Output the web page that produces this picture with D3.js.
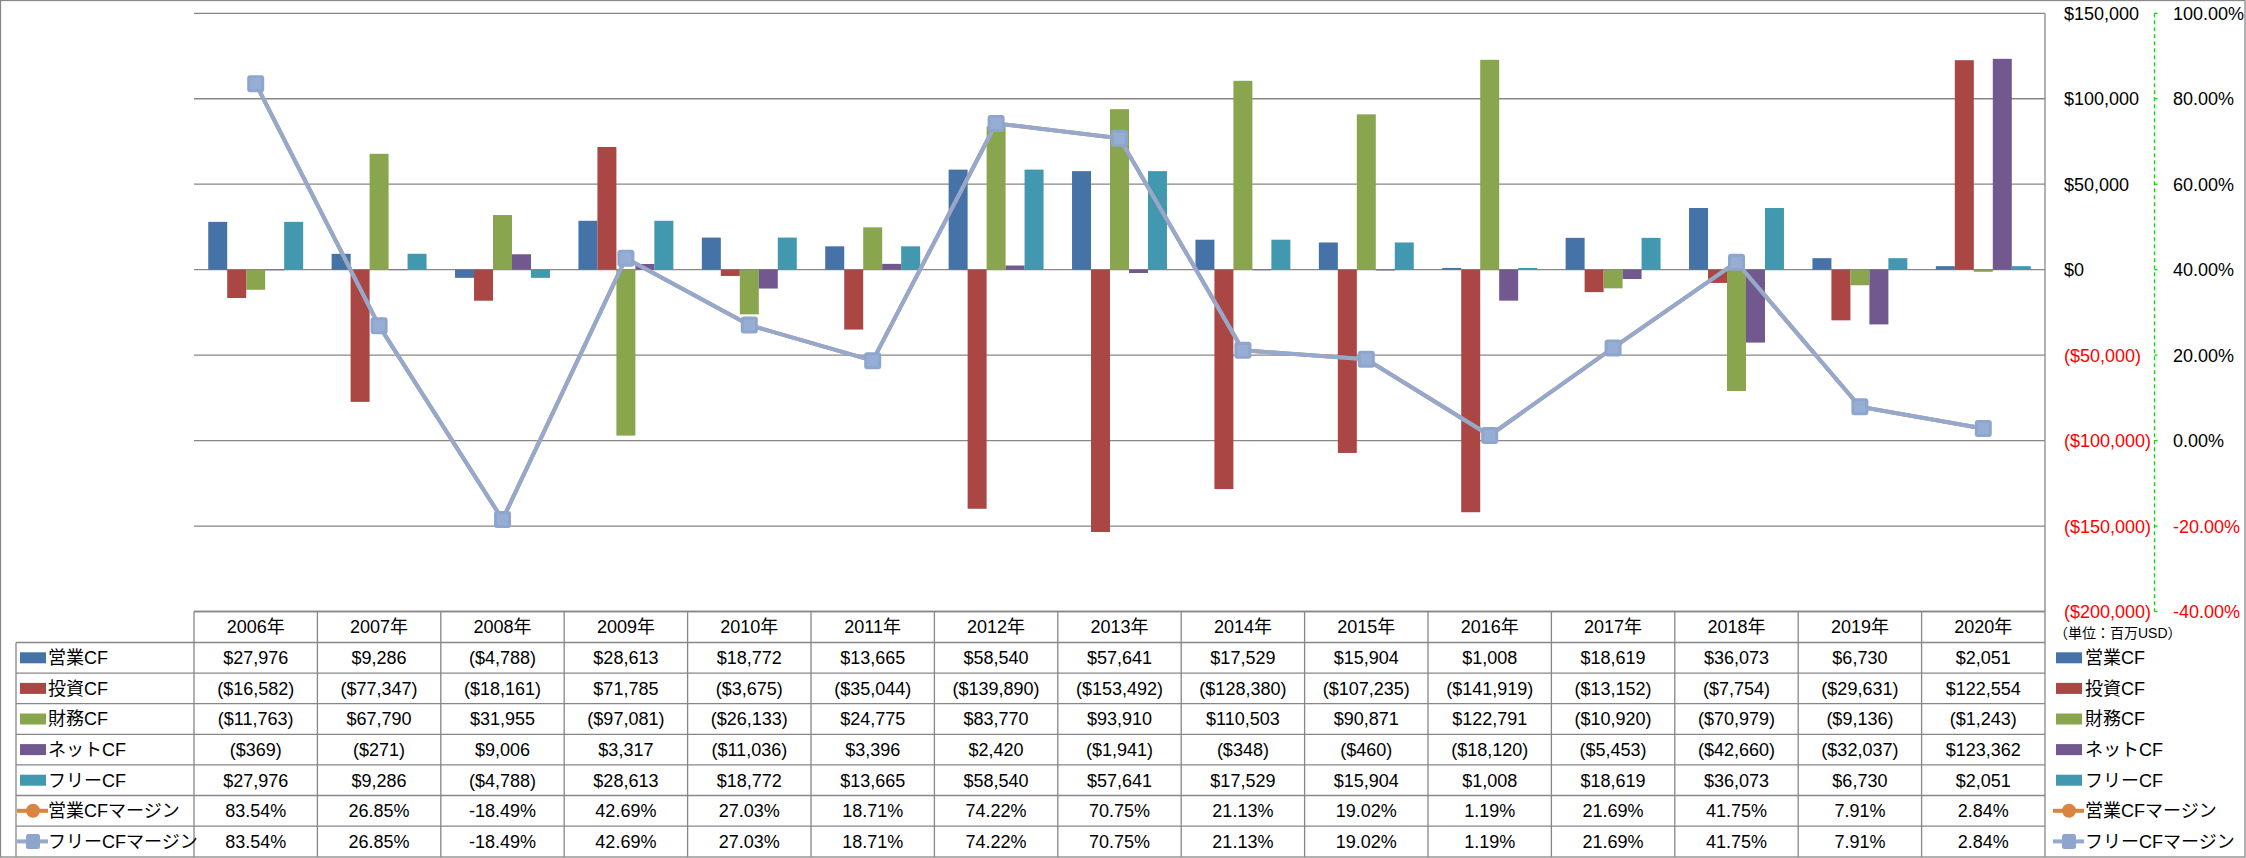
<!DOCTYPE html>
<html><head><meta charset="utf-8">
<script src="https://cdn.jsdelivr.net/npm/d3@7"></script>
<style>
html,body{margin:0;padding:0;background:#fff;}
svg{display:block;}
text{font-family:"Liberation Sans",Arial,"Noto Sans CJK JP",sans-serif;}
</style></head><body>
<svg id="c" width="2246" height="858"></svg>
<script>
const years = ['2006年','2007年','2008年','2009年','2010年','2011年','2012年','2013年','2014年','2015年','2016年','2017年','2018年','2019年','2020年'];
const opCF   = [27976, 9286, -4788, 28613, 18772, 13665, 58540, 57641, 17529, 15904, 1008, 18619, 36073, 6730, 2051];
const invCF  = [-16582, -77347, -18161, 71785, -3675, -35044, -139890, -153492, -128380, -107235, -141919, -13152, -7754, -29631, 122554];
const finCF  = [-11763, 67790, 31955, -97081, -26133, 24775, 83770, 93910, 110503, 90871, 122791, -10920, -70979, -9136, -1243];
const netCF  = [-369, -271, 9006, 3317, -11036, 3396, 2420, -1941, -348, -460, -18120, -5453, -42660, -32037, 123362];
const freeCF = [27976, 9286, -4788, 28613, 18772, 13665, 58540, 57641, 17529, 15904, 1008, 18619, 36073, 6730, 2051];
const opMargin   = [83.54, 26.85, -18.49, 42.69, 27.03, 18.71, 74.22, 70.75, 21.13, 19.02, 1.19, 21.69, 41.75, 7.91, 2.84];
const freeMargin = [83.54, 26.85, -18.49, 42.69, 27.03, 18.71, 74.22, 70.75, 21.13, 19.02, 1.19, 21.69, 41.75, 7.91, 2.84];
const barNames  = ['営業CF','投資CF','財務CF','ネットCF','フリーCF'];
const lineNames = ['営業CFマージン','フリーCFマージン'];
const leftTicks  = [150000, 100000, 50000, 0, -50000, -100000, -150000, -200000];
const rightTicks = [100, 80, 60, 40, 20, 0, -20, -40];
const unitLabel = '（単位：百万USD）';

const barSeries = [opCF, invCF, finCF, netCF, freeCF];
const barColors = ['#4572A7','#AA4643','#89A54E','#71588F','#4198AF'];
const lineSeries = [opMargin, freeMargin];
const lineColors = ['#DB843D','#93A9CF'];

const svg = d3.select('#c');
const L = 194, R = 2045, T = 13.3, B = 611.5;
const gridCol = '#878787';
const fontSize = 18;

const x0 = d3.scaleBand().domain(years).range([L, R]).paddingInner(0).paddingOuter(0);
const x1 = d3.scaleBand().domain(d3.range(barSeries.length)).range([0, x0.bandwidth()]).paddingInner(0).paddingOuter(0.75);
const y = d3.scaleLinear().domain([-200000, 150000]).range([B, T]);
const y2 = d3.scaleLinear().domain([-40, 100]).range([B, T]);

// outer border
svg.append('rect').attr('x',0.5).attr('y',0.5).attr('width',2244.5).attr('height',856.5)
  .attr('fill','none').attr('stroke','#888').attr('stroke-width',1.3);

// gridlines
svg.append('g').selectAll('line').data(leftTicks).join('line')
  .attr('x1',L).attr('x2',R).attr('y1',d=>y(d)).attr('y2',d=>y(d))
  .attr('stroke',gridCol).attr('stroke-width',1.3);

// bars
const fmtN = d3.format(',');
barSeries.forEach((s,si)=>{
  svg.append('g').selectAll('rect').data(s).join('rect')
    .attr('x',(d,i)=>x0(years[i])+x1(si))
    .attr('width',x1.bandwidth())
    .attr('y',d=>Math.min(y(d),y(0)))
    .attr('height',d=>Math.abs(y(d)-y(0)))
    .attr('fill',barColors[si]);
});

// lines
const cx = i => x0(years[i]) + x0.bandwidth()/2;
lineSeries.forEach((s,si)=>{
  const line = d3.line().x((d,i)=>cx(i)).y(d=>y2(d));
  svg.append('path').datum(s).attr('d',line).attr('fill','none')
    .attr('stroke',lineColors[si]).attr('stroke-width',4).attr('stroke-linejoin','round');
  const g = svg.append('g');
  if(si===0){
    g.selectAll('circle').data(s).join('circle')
      .attr('cx',(d,i)=>cx(i)).attr('cy',d=>y2(d)).attr('r',7).attr('fill',lineColors[0]);
  } else {
    g.selectAll('rect.o').data(s).join('rect').attr('class','o')
      .attr('x',(d,i)=>cx(i)-8.5).attr('y',d=>y2(d)-8.5).attr('width',17).attr('height',17)
      .attr('rx',3).attr('fill','#8EA6CE');
    g.selectAll('rect.i').data(s).join('rect').attr('class','i')
      .attr('x',(d,i)=>cx(i)-5.5).attr('y',d=>y2(d)-5.5).attr('width',11).attr('height',11)
      .attr('fill','#97AED4');
  }
});

// right-side axis labels
const money = v => v<0 ? '($'+fmtN(-v)+')' : '$'+fmtN(v);
svg.append('g').selectAll('text').data(leftTicks).join('text')
  .attr('x',2064).attr('y',d=>y(d)).attr('dy','0.36em')
  .attr('font-size',fontSize).attr('fill',d=>d<0?'#FF0000':'#000')
  .text(d=>money(d));
// green dashed secondary axis
const ax2 = 2154.5;
svg.append('line').attr('x1',ax2).attr('x2',ax2).attr('y1',T).attr('y2',B)
  .attr('stroke','#00E000').attr('stroke-width',1.3).attr('stroke-dasharray','4,3');
svg.append('g').selectAll('line').data(rightTicks).join('line')
  .attr('x1',ax2).attr('x2',ax2+3).attr('y1',d=>y2(d)).attr('y2',d=>y2(d))
  .attr('stroke','#00E000').attr('stroke-width',1.3);
svg.append('g').selectAll('text').data(rightTicks).join('text')
  .attr('x',2173).attr('y',d=>y2(d)).attr('dy','0.36em')
  .attr('font-size',fontSize).attr('fill',d=>d<0?'#FF0000':'#000')
  .text(d=>d.toFixed(2)+'%');

// unit label
svg.append('text').attr('x',2054).attr('y',633).attr('dy','0.36em')
  .attr('font-size',14).attr('fill','#000').text(unitLabel);

// data table
const headTop = 611.5, headBot = 642.5, rowH = 30.6, tableLeft = 16;
const rowNames = barNames.concat(lineNames);
const rowData = barSeries.concat(lineSeries);
const nRows = rowNames.length;
const rowY = i => headBot + rowH*i;
const tBot = 857;
const tg = svg.append('g');
tg.append('line').attr('x1',L).attr('x2',R).attr('y1',headTop).attr('y2',headTop).attr('stroke',gridCol).attr('stroke-width',1.3);
d3.range(nRows).forEach(i=>{
  tg.append('line').attr('x1',tableLeft).attr('x2',R).attr('y1',rowY(i)).attr('y2',rowY(i)).attr('stroke',gridCol).attr('stroke-width',1.3);
});
tg.append('line').attr('x1',tableLeft).attr('x2',tableLeft).attr('y1',headBot).attr('y2',tBot).attr('stroke',gridCol).attr('stroke-width',1.3);
years.forEach(yr=>{
  tg.append('line').attr('x1',x0(yr)).attr('x2',x0(yr)).attr('y1',headTop).attr('y2',tBot).attr('stroke',gridCol).attr('stroke-width',1.3);
});
tg.append('line').attr('x1',R).attr('x2',R).attr('y1',T).attr('y2',tBot).attr('stroke',gridCol).attr('stroke-width',1.3);
tg.selectAll('text.h').data(years).join('text').attr('class','h')
  .attr('x',d=>x0(d)+x0.bandwidth()/2).attr('y',(headTop+headBot)/2).attr('dy','0.36em')
  .attr('text-anchor','middle').attr('font-size',fontSize).text(d=>d);
rowData.forEach((s,ri)=>{
  const cyy = rowY(ri)+rowH/2;
  tg.append('g').selectAll('text').data(s).join('text')
    .attr('x',(d,i)=>cx(i)).attr('y',cyy).attr('dy','0.36em')
    .attr('text-anchor','middle').attr('font-size',fontSize)
    .text(d=> ri < barSeries.length ? money(d) : d.toFixed(2)+'%');
});

function key(g, xs, ri, cyy){
  if(ri < barSeries.length){
    g.append('rect').attr('x',xs).attr('y',cyy-5.5).attr('width',26).attr('height',11).attr('fill',barColors[ri]);
  } else {
    const li = ri - barSeries.length;
    g.append('line').attr('x1',xs-3).attr('x2',xs+28).attr('y1',cyy).attr('y2',cyy)
      .attr('stroke',lineColors[li]).attr('stroke-width',4);
    if(li===0){
      g.append('circle').attr('cx',xs+13).attr('cy',cyy).attr('r',7).attr('fill',lineColors[0]);
    } else {
      g.append('rect').attr('x',xs+6).attr('y',cyy-7.5).attr('width',14).attr('height',15).attr('rx',2.5).attr('fill','#8EA6CE');
    }
  }
}
rowNames.forEach((nm,ri)=>{
  const cyy = rowY(ri)+rowH/2;
  key(tg, 20, ri, cyy);
  tg.append('text').attr('x',48).attr('y',cyy).attr('dy','0.36em').attr('font-size',fontSize).text(nm);
  key(tg, 2056, ri, cyy);
  tg.append('text').attr('x',2085).attr('y',cyy).attr('dy','0.36em').attr('font-size',fontSize).text(nm);
});
</script>
</body></html>
